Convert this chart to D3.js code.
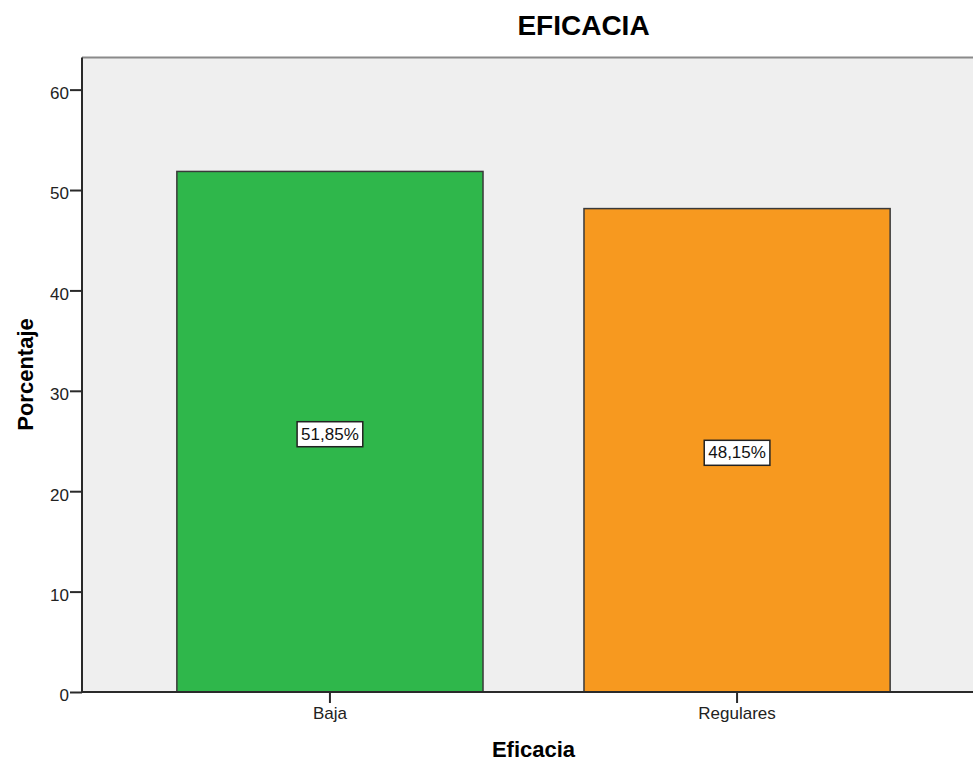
<!DOCTYPE html>
<html>
<head>
<meta charset="utf-8">
<script src="https://cdn.jsdelivr.net/npm/d3@7"></script>
<style>
  html, body { margin: 0; padding: 0; background: #ffffff; }
  svg { display: block; font-family: "Liberation Sans", Arial, sans-serif; }
</style>
</head>
<body>
<svg id="chart" width="973" height="761"></svg>
<script>
// Percentage of responses per efficacy level
const categories = ["Baja", "Regulares"];
const values = [51.85, 48.15];
const valueLabels = ["51,85%", "48,15%"];
const barColors = ["#2fb74b", "#f7991f"];
const yTicks = [0, 10, 20, 30, 40, 50, 60];

const svg = d3.select("#chart");
const plot = { left: 82, top: 57.5, right: 985, bottom: 692 };

const y = d3.scaleLinear().domain([0, 63.2]).range([plot.bottom, plot.top]);
const x = d3.scaleBand()
  .domain(categories)
  .range([plot.left, plot.right])
  .paddingInner(0.248)
  .paddingOuter(0.233);

// plot background
svg.append("rect")
  .attr("x", plot.left).attr("y", plot.top)
  .attr("width", plot.right - plot.left).attr("height", plot.bottom - plot.top)
  .attr("fill", "#efefef");

// top frame line
svg.append("line")
  .attr("x1", plot.left).attr("x2", plot.right)
  .attr("y1", plot.top).attr("y2", plot.top)
  .attr("stroke", "#8a8a8a").attr("stroke-width", 2);

// bars
svg.append("g").selectAll("rect")
  .data(categories)
  .join("rect")
  .attr("x", d => x(d))
  .attr("y", (d, i) => y(values[i]))
  .attr("width", x.bandwidth())
  .attr("height", (d, i) => y(0) - y(values[i]))
  .attr("fill", (d, i) => barColors[i])
  .attr("stroke", "#3a3a3a")
  .attr("stroke-width", 1.5);

// y axis
const yAxis = svg.append("g")
  .attr("transform", `translate(${plot.left},0)`)
  .call(d3.axisLeft(y).tickValues(yTicks).tickSize(12).tickPadding(1).tickFormat(d3.format("d")));
yAxis.select(".domain").attr("stroke", "#2a2a2a").attr("stroke-width", 2)
  .attr("d", `M0,${plot.bottom}V${plot.top}`);
yAxis.selectAll(".tick line").attr("stroke", "#2a2a2a").attr("stroke-width", 2);
yAxis.selectAll(".tick text")
  .attr("font-size", 17).attr("fill", "#222").attr("dy", "0.52em")
  .style("font-family", "'Liberation Sans', Arial, sans-serif");

// x axis
const xAxis = svg.append("g")
  .attr("transform", `translate(0,${plot.bottom})`)
  .call(d3.axisBottom(x).tickSize(11).tickPadding(4));
xAxis.select(".domain").attr("stroke", "#2a2a2a").attr("stroke-width", 2)
  .attr("d", `M${plot.left},0H${plot.right}`);
xAxis.selectAll(".tick line").attr("stroke", "#2a2a2a").attr("stroke-width", 2);
xAxis.selectAll(".tick text")
  .attr("font-size", 17).attr("fill", "#222")
  .style("font-family", "'Liberation Sans', Arial, sans-serif");

// value labels in boxes at bar mid-height
const labels = svg.append("g").selectAll("g")
  .data(categories)
  .join("g")
  .attr("transform", (d, i) => `translate(${x(d) + x.bandwidth() / 2},${y(values[i] / 2) + 2})`);
labels.append("text")
  .attr("text-anchor", "middle")
  .attr("dy", "0.36em")
  .attr("font-size", 17)
  .attr("fill", "#111")
  .text((d, i) => valueLabels[i]);
labels.each(function () {
  const g = d3.select(this);
  const bb = g.select("text").node().getBBox();
  g.insert("rect", "text")
    .attr("x", bb.x - 4).attr("y", -12)
    .attr("width", bb.width + 8).attr("height", 25)
    .attr("fill", "#ffffff")
    .attr("stroke", "#222").attr("stroke-width", 1.5);
});

// titles
svg.append("text")
  .attr("x", 583.5).attr("y", 34.5)
  .attr("text-anchor", "middle")
  .attr("font-size", 28).attr("font-weight", "bold").attr("fill", "#000")
  .text("EFICACIA");

svg.append("text")
  .attr("x", (plot.left + plot.right) / 2).attr("y", 757)
  .attr("text-anchor", "middle")
  .attr("font-size", 22).attr("font-weight", "bold").attr("fill", "#000")
  .text("Eficacia");

svg.append("text")
  .attr("transform", "translate(33,374.5) rotate(-90)")
  .attr("text-anchor", "middle")
  .attr("font-size", 22).attr("font-weight", "bold").attr("fill", "#000")
  .text("Porcentaje");
</script>
</body>
</html>
